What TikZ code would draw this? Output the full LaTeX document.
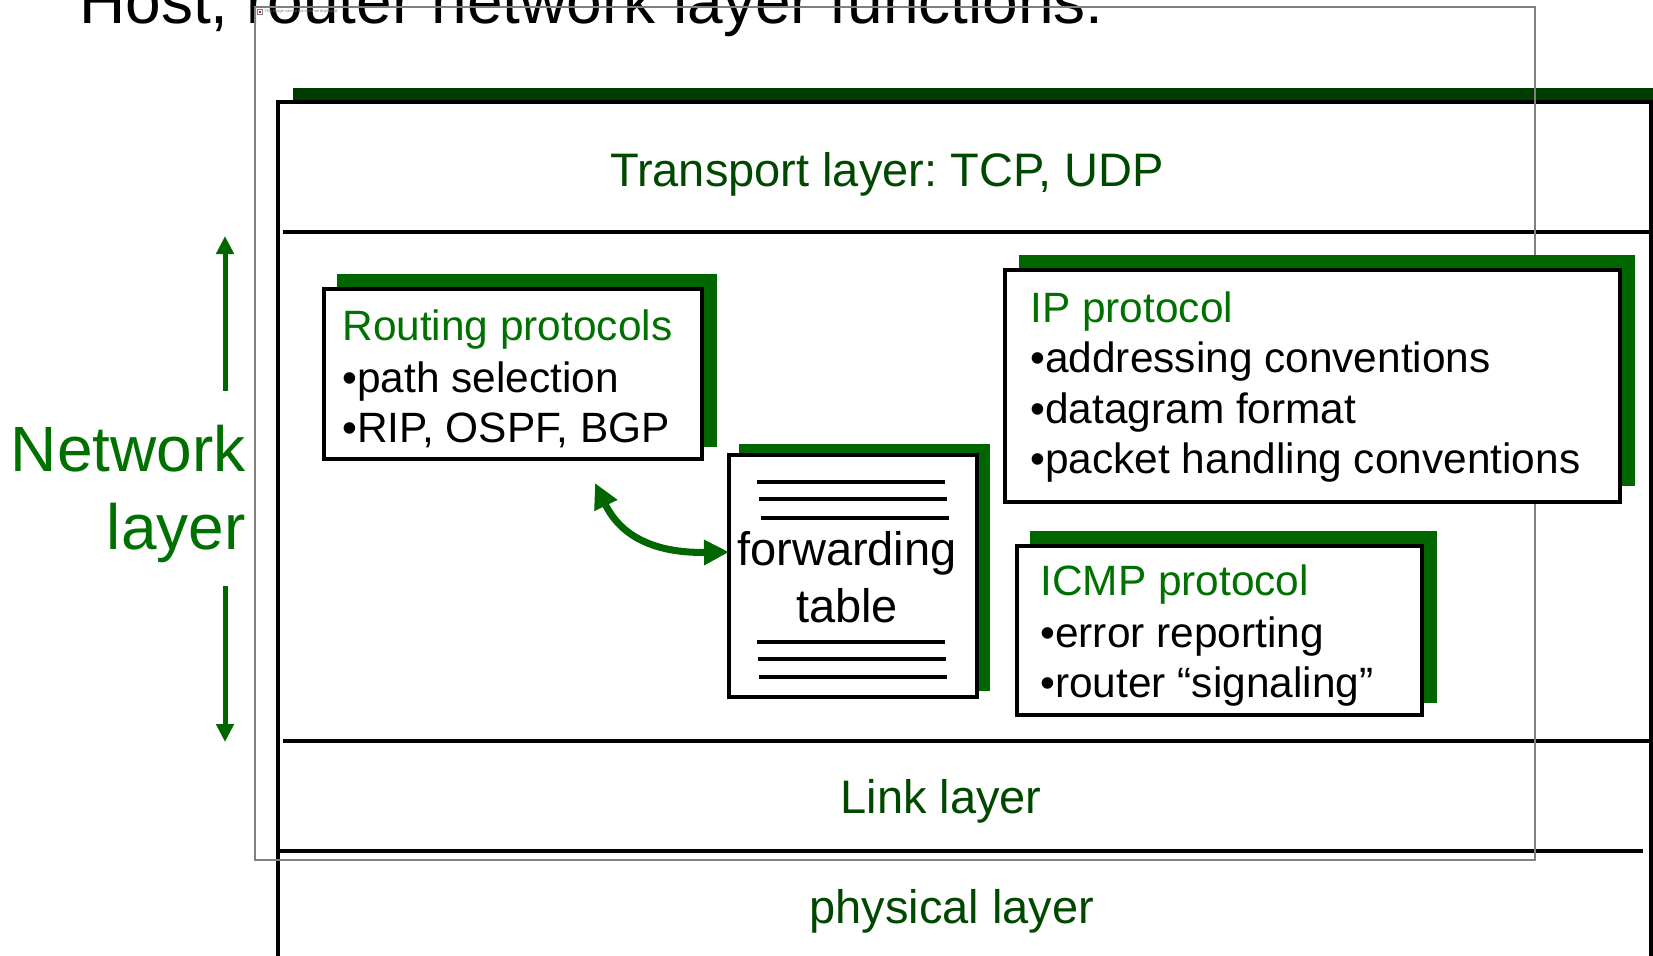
\documentclass[tikz,border=0pt]{standalone}
\usepackage{fontspec}
\setmainfont{Liberation Sans}
\usetikzlibrary{arrows.meta}
\definecolor{barg}{HTML}{003C00}
\definecolor{shg}{HTML}{006600}
\definecolor{tg}{HTML}{007000}
\definecolor{lg}{HTML}{004800}
\definecolor{frgray}{HTML}{808080}
\frenchspacing
\begin{document}
\begin{tikzpicture}[x=0.5pt,y=-0.5pt,
  shadowbox/.style={fill=shg, draw=none, inner sep=0pt, outer sep=0pt},
  whitebox/.style={draw=black, line width=2pt, fill=white, inner sep=0pt, outer sep=0pt},
  body/.style={font=\fontsize{21.2}{25}\selectfont, inner sep=0pt, anchor=base west},
  headtxt/.style={body, text=tg},
  layertxt/.style={font=\fontsize{23.5}{28}\selectfont, text=lg, inner sep=0pt, anchor=base},
  bigtxt/.style={font=\fontsize{23.5}{28}\selectfont, inner sep=0pt, anchor=base},
  nettxt/.style={font=\fontsize{32}{38}\selectfont, text=tg, inner sep=0pt, anchor=base east},
  divider/.style={draw=black, line width=2pt},
  tline/.style={draw=black, line width=2pt},
  netarrow/.style={draw=shg, line width=2.5pt, -{Triangle[length=9pt,width=8.5pt]}},
  curvedarrow/.style={draw=shg, line width=3.5pt, {Triangle[length=12.5pt,width=12pt]}-{Triangle[length=12.5pt,width=12pt]}}
]
\useasboundingbox (0,0) rectangle (1653,955);

% title
\node[font=\fontsize{32}{38}\selectfont, inner sep=0pt, anchor=base west] (title) at (79,23) {Host, router network layer functions:};

% main frame with top bar
\fill[barg] (293,88) rectangle (1660,102);
\draw[black, line width=2pt] (278,960) -- (278,102) -- (1651,102) -- (1651,960);
\draw[divider] (283,232) -- (1653,232);
\draw[divider] (283,741) -- (1653,741);
\draw[divider] (279,851) -- (1643,851);

% thin grey frame and placeholder
\draw[frgray, line width=0.75pt] (255,7) rectangle (1535,860);
\node[draw=frgray, line width=0.2pt, fill=white, minimum size=2.5pt, inner sep=0pt] (ph) at (259.5,11.5) {};
\fill[red] (258.5,10.5) rectangle (260.5,12.5);
\node[font=\fontsize{2}{2}\selectfont, text=frgray, inner sep=0pt, anchor=west] (phtxt) at (264,11.5) {This image cannot currently be displayed.};

% layer labels
\node[layertxt] (transport) at (887,186) {Transport layer: TCP, UDP};
\node[layertxt] (link) at (941,813) {Link layer};
\node[layertxt] (phys) at (952,923) {physical layer};

% network layer label and arrows
\node[nettxt] (net1) at (246,471) {Network};
\node[nettxt] (net2) at (246,549) {layer};
\coordinate (upA) at (225,391);
\coordinate (upB) at (225,236);
\coordinate (dnA) at (225,586);
\coordinate (dnB) at (225,742);
\draw[netarrow] (upA) -- (upB);
\draw[netarrow] (dnA) -- (dnB);

% routing protocols box
\node[shadowbox, minimum width=190pt, minimum height=86.5pt] (routingsh) at (527,360.5) {};
\node[whitebox, minimum width=189pt, minimum height=85pt] (routing) at (513,374) {};
\node[headtxt] (r1) at (342,340) {Routing protocols};
\node[body] (r2) at (342,392) {•path selection};
\node[body] (r3) at (342,442) {•RIP, OSPF, BGP};

% forwarding table box
\node[shadowbox, minimum width=125.5pt, minimum height=123.5pt] (fwdsh) at (864.5,567.5) {};
\node[whitebox, minimum width=124pt, minimum height=121pt] (fwd) at (853,576) {};
\draw[tline] (757,482) -- (945,482);
\draw[tline] (759,499) -- (947,499);
\draw[tline] (761,518) -- (949,518);
\draw[tline] (757,642) -- (945,642);
\draw[tline] (758,659) -- (946,659);
\draw[tline] (759,677) -- (947,677);
\node[bigtxt] (f1) at (847,565) {forwarding};
\node[bigtxt] (f2) at (847,622) {table};

% IP protocol box
\node[shadowbox, minimum width=308pt, minimum height=115.5pt] (ipsh) at (1327,370.5) {};
\node[whitebox, minimum width=307.5pt, minimum height=116pt] (ip) at (1312.5,386) {};
\node[headtxt] (i1) at (1030,322) {IP protocol};
\node[body] (i2) at (1030,372) {•addressing conventions};
\node[body] (i3) at (1030,423) {•datagram format};
\node[body] (i4) at (1030,473) {•packet handling conventions};

% ICMP protocol box
\node[shadowbox, minimum width=203.5pt, minimum height=86pt] (icmpsh) at (1233.5,617) {};
\node[whitebox, minimum width=202.5pt, minimum height=84.5pt] (icmp) at (1219.5,630.5) {};
\node[headtxt] (c1) at (1040,595) {ICMP protocol};
\node[body] (c2) at (1040,647) {•error reporting};
\node[body] (c3) at (1040,697) {•router “signaling”};

% curved double arrow between routing and forwarding table
\coordinate (rtip) at (595,483);
\coordinate (ftip) at ([yshift=12pt]fwd.west);
\draw[curvedarrow] (rtip) .. controls (625,545) and (670,553) .. (ftip);
\end{tikzpicture}
\end{document}
